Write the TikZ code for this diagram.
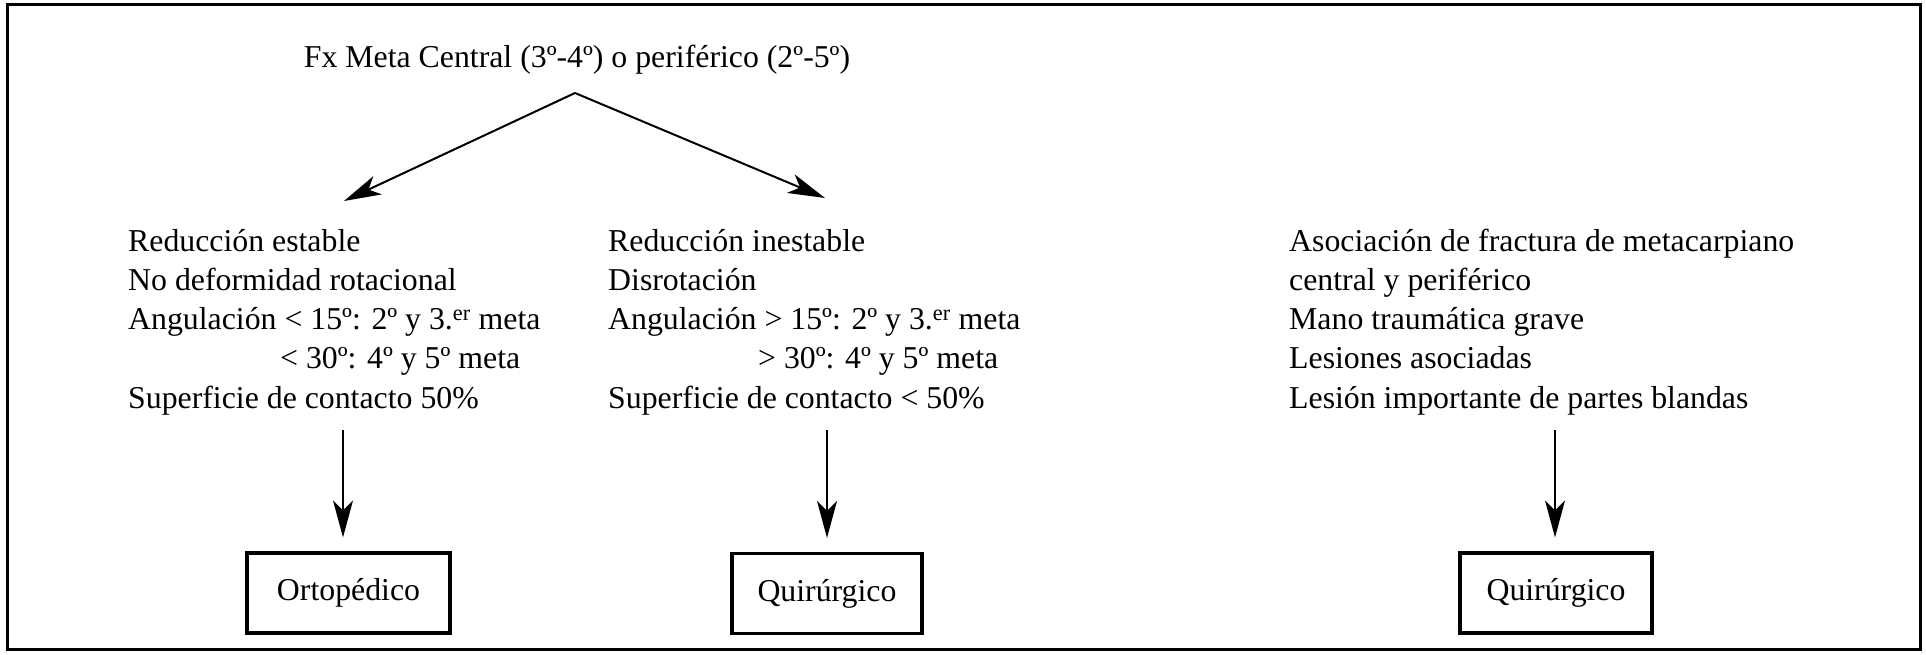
\documentclass[tikz,border=0pt]{standalone}
\usepackage{fontspec}
\setmainfont{Liberation Serif}
\usetikzlibrary{arrows.meta}
\begin{document}
\begin{tikzpicture}[x=1pt,y=-1pt,
  every node/.style={font=\fontsize{31.8pt}{39.1pt}\selectfont, inner sep=0pt},
  block/.style={align=left, anchor=base west},
  resbox/.style={draw, line width=3.2pt, minimum height=80pt},
  arr/.style={line width=2pt, -{Stealth[length=37pt,width=20pt,inset=10pt]}}]
\useasboundingbox (0,0) rectangle (1926,655);
\draw[line width=3pt] (7,4.5) rectangle (1920.5,649);

\node[anchor=base] (title) at (577,68) {Fx Meta Central (3º-4º) o periférico (2º-5º)};
\coordinate (apex) at (575,93);
\coordinate (tipL) at (344,201);
\coordinate (tipR) at (825,198);
\draw[arr] (apex) -- (tipL);
\draw[arr] (apex) -- (tipR);

% base anchor of a multi-line node lies on its last line
\node[block] (bl) at (128,408) {Reducción estable\\No deformidad rotacional\\Angulación < 15º: 2º y 3.\textsuperscript{er} meta\\\hspace*{152pt}< 30º: 4º y 5º meta\\Superficie de contacto 50\%};
\node[block] (bm) at (608,408) {Reducción inestable\\Disrotación\\Angulación > 15º: 2º y 3.\textsuperscript{er} meta\\\hspace*{150pt}> 30º: 4º y 5º meta\\Superficie de contacto < 50\%};
\node[block] (br) at (1289,408) {Asociación de fractura de metacarpiano\\central y periférico\\Mano traumática grave\\Lesiones asociadas\\Lesión importante de partes blandas};

\node[resbox, minimum width=203pt] (o1) at (348.5,593) {Ortopédico};
\node[resbox, minimum width=190pt] (o2) at (827,593.5) {Quirúrgico};
\node[resbox, minimum width=192pt] (o3) at (1556,593) {Quirúrgico};

\coordinate (s1) at (343,430);
\coordinate (s2) at (827,430);
\coordinate (s3) at (1555,430);
\draw[arr, shorten >=14pt] (s1) -- (s1 |- o1.north);
\draw[arr, shorten >=14pt] (s2) -- (s2 |- o2.north);
\draw[arr, shorten >=14pt] (s3) -- (s3 |- o3.north);
\end{tikzpicture}
\end{document}
